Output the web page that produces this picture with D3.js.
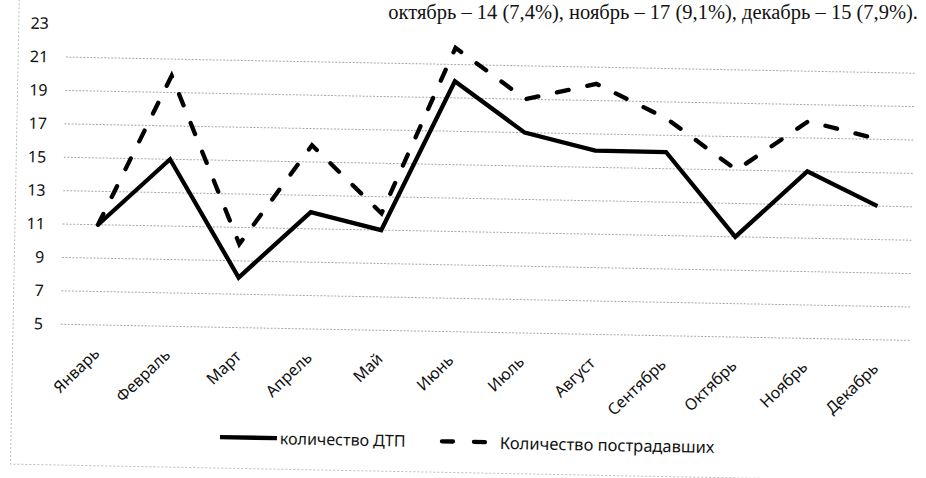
<!DOCTYPE html>
<html>
  <head>
    <meta charset="utf-8" />
    <script src="https://d3js.org/d3.v7.min.js"></script>
    <title>ДТП по месяцам</title>
    <style>
        body { margin: 0; background: #fff; }
        text { font-family: "Noto Sans", sans-serif; fill: #111; }
        .doc { font-family: "Liberation Serif", serif; }
    </style>
  </head>
  <body>

    <svg id="chart"></svg>

    <script>
        // data
        var months = ["Январь", "Февраль", "Март", "Апрель", "Май", "Июнь",
                      "Июль", "Август", "Сентябрь", "Октябрь", "Ноябрь", "Декабрь"];
        var accidents = [11, 15, 8, 12, 11, 20, 17, 16, 16, 11, 15, 13];
        var victims = [11, 20, 10, 16, 12, 22, 19, 20, 18, 15, 18, 17];
        var yTicks = [5, 7, 9, 11, 13, 15, 17, 19, 21, 23];
        var seriesNames = ["количество ДТП", "Количество пострадавших"];
        var docLine = "октябрь – 14 (7,4%), ноябрь – 17 (9,1%), декабрь – 15 (7,9%).";

        var svg = d3.select("#chart").attr("width", 926).attr("height", 478);

        // line of the document text above the chart
        svg.append("text")
            .attr("class", "doc")
            .attr("x", 918)
            .attr("y", 19)
            .attr("text-anchor", "end")
            .style("font-size", "20.5px")
            .text(docLine);

        // the scan is slightly tilted, so the whole chart is rotated a bit
        var g = svg.append("g").attr("transform", "rotate(1.09,60,224)");

        // faint chart border
        g.append("rect")
            .attr("x", 15).attr("y", -40)
            .attr("width", 1000).attr("height", 505)
            .attr("fill", "none")
            .attr("stroke", "#bbb")
            .attr("stroke-dasharray", "2,2");

        var x = d3.scalePoint().domain(months).range([62.6, 912.4]).padding(0.5);
        var y = d3.scaleLinear().domain([5, 23]).range([324.2, 23.6]);

        // gridlines (top one is not visible on the scan)
        g.append("g").selectAll("line")
            .data(yTicks.filter(function(d){ return d < 23; }))
            .enter().append("line")
            .attr("x1", 62.6).attr("x2", 912.4)
            .attr("y1", function(d){ return y(d); })
            .attr("y2", function(d){ return y(d); })
            .attr("stroke", "#a8a8a8")
            .attr("stroke-width", 1)
            .attr("stroke-dasharray", "2,1.5");

        // y axis labels
        var yAxis = g.append("g")
            .attr("transform", "translate(48,0)")
            .call(d3.axisLeft(y).tickValues(yTicks).tickSize(0).tickPadding(3));
        yAxis.select(".domain").remove();
        yAxis.selectAll("text")
            .style("font-family", "Noto Sans")
            .style("font-size", "16px")
            .attr("fill", "#111");

        // rotated month labels
        g.append("g").selectAll("text")
            .data(months)
            .enter().append("text")
            .attr("transform", function(d){
                return "translate(" + (x(d) + 5) + ",354) rotate(-45)";
            })
            .attr("text-anchor", "end")
            .style("font-size", "16px")
            .text(function(d){ return d; });

        var line = d3.line()
            .x(function(d, i){ return x(months[i]); })
            .y(function(d){ return y(d); });

        g.append("path")
            .datum(accidents)
            .attr("d", line)
            .attr("fill", "none")
            .attr("stroke", "#000")
            .attr("stroke-width", 4.3)
            .attr("stroke-linejoin", "miter");

        g.append("path")
            .datum(victims)
            .attr("d", line)
            .attr("fill", "none")
            .attr("stroke", "#000")
            .attr("stroke-width", 4.3)
            .attr("stroke-linecap", "round")
            .attr("stroke-dasharray", "12,19");

        // legend
        var legend = g.append("g");
        legend.append("line")
            .attr("x1", 224).attr("x2", 281)
            .attr("y1", 434).attr("y2", 434)
            .attr("stroke", "#000").attr("stroke-width", 4.3);
        legend.append("text")
            .attr("x", 284).attr("y", 434)
            .attr("dominant-baseline", "central")
            .style("font-size", "16px")
            .text(seriesNames[0]);
        legend.append("line")
            .attr("x1", 446).attr("x2", 489)
            .attr("y1", 434).attr("y2", 434)
            .attr("stroke", "#000").attr("stroke-width", 4.3)
            .attr("stroke-linecap", "round")
            .attr("stroke-dasharray", "11,21");
        legend.append("text")
            .attr("x", 504).attr("y", 434)
            .attr("dominant-baseline", "central")
            .style("font-size", "16.5px")
            .text(seriesNames[1]);
    </script>

  </body>
</html>
